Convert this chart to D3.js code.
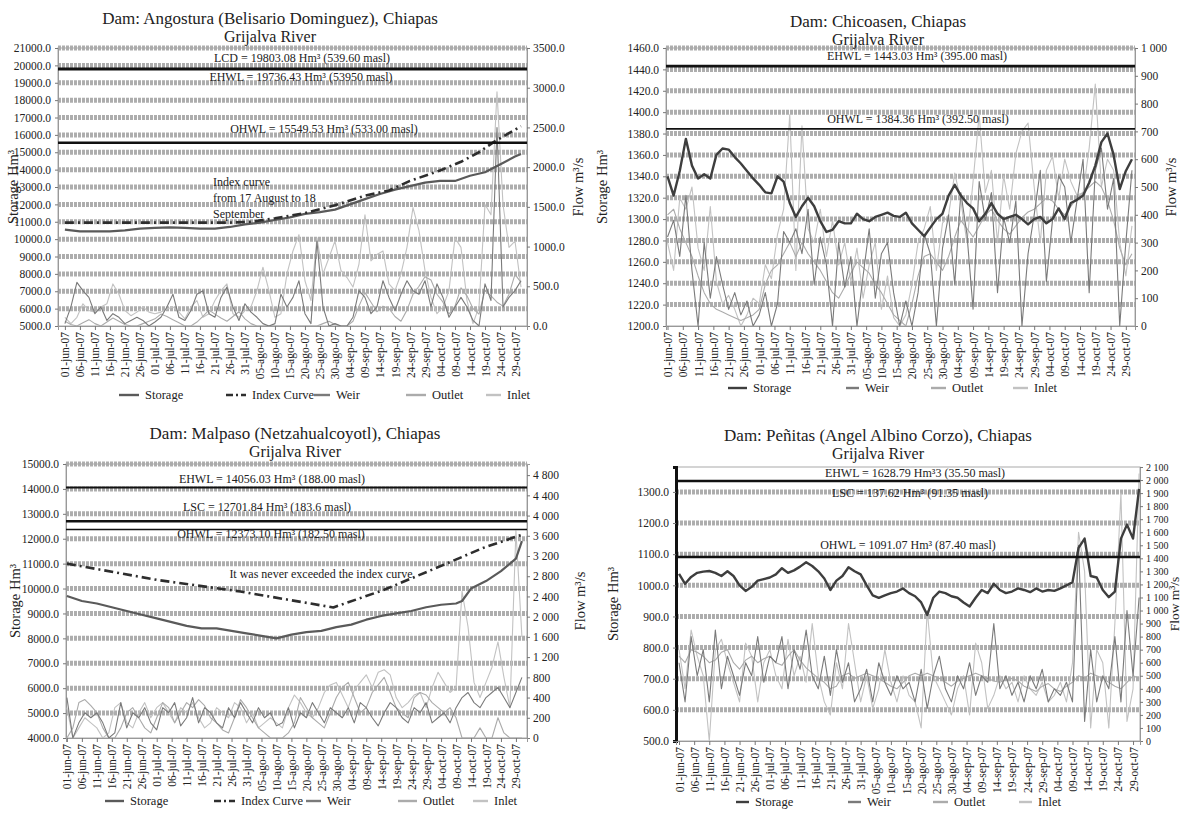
<!DOCTYPE html>
<html>
<head>
<meta charset="utf-8">
<script src="https://cdn.jsdelivr.net/npm/d3@7"></script>
<style>
body { margin: 0; background: #fff; }
svg text { font-family: "Liberation Serif", "DejaVu Serif", serif !important; fill: #222; }
</style>
</head>
<body>
<svg id="chart" width="1184" height="813"></svg>
<script>
// x categories: one label every 5 days, 01-jun-07 = day 0
const tickDates = ["01-jun-07","06-jun-07","11-jun-07","16-jun-07","21-jun-07","26-jun-07",
  "01-jul-07","06-jul-07","11-jul-07","16-jul-07","21-jul-07","26-jul-07","31-jul-07",
  "05-ago-07","10-ago-07","15-ago-07","20-ago-07","25-ago-07","30-ago-07",
  "04-sep-07","09-sep-07","14-sep-07","19-sep-07","24-sep-07","29-sep-07",
  "04-oct-07","09-oct-07","14-oct-07","19-oct-07","24-oct-07","29-oct-07"];
// flows are read every second day
const flowDays = d3.range(0, 153, 2);

// ---- Angostura
const angStorageDays = [0,5,10,15,20,25,30,35,40,45,50,55,60,65,70,75,80,85,90,95,100,105,110,115,120,125,130,135,140,145,150,152];
const angStorage = [10550,10450,10450,10450,10500,10600,10650,10680,10650,10600,10600,10700,10850,10950,11100,11250,
  11450,11550,11700,12000,12300,12600,12850,13050,13250,13350,13350,13650,13850,14300,14750,14900];
const angIndexDays = [0,55,62,70,80,90,100,108,115,125,132,138,143,147,152];
const angIndex = [10950,10950,11000,11200,11500,11950,12500,12800,13350,13950,14450,15000,15600,16000,16500];
const angWeir = [30,240,550,445,360,155,240,70,155,110, 30,70,110,70,0,50,110,240,400,110,
  70,195,400,445,155,110,360,490,240,70, 280,175,110,30,0,30,400,240,360,570,
  155,30,1070,240,0,30,0,0,110,445, 360,155,240,570,360,195,400,570,445,400,
  570,240,530,360,110,240,360,240,70,0, 530,320,2500,240,360,445,570];
const angOutlet = [60,20,0,40,80,30,0,50,100,60, 20,0,0,30,60,90,150,120,80,40,
  0,0,50,120,200,150,100,60,120,180, 90,30,0,0,0,0,0,0,0,0,
  0,0,0,30,60,20,0,0,60,250, 420,300,180,250,220,120,60,200,400,500,
  620,580,400,300,150,250,480,380,220,150, 450,380,300,250,400,650,550];
const angInlet = [110,30,110,280,195,175,240,280,530,400, 195,130,175,240,175,155,175,215,240,175,
  90,240,320,110,155,320,445,530,155,110, 195,240,445,740,445,110,155,655,945,1150,
  570,320,1110,655,860,1070,700,610,490,780, 1400,820,900,945,530,445,655,990,1490,1200,
  700,360,155,240,445,1110,990,320,30,240, 1530,1400,2950,1530,990,1070,490];

// ---- Chicoasen
const chiStorage = [1340,1322,1345,1375,1350,1338,1342,1338,1360,1366, 1365,1358,1352,1345,1338,1332,1325,1324,1340,1335,
  1315,1302,1312,1320,1312,1298,1288,1290,1298,1296, 1296,1305,1300,1298,1302,1304,1306,1303,1302,1306,
  1296,1290,1284,1292,1300,1305,1322,1332,1322,1315, 1310,1298,1305,1315,1305,1300,1302,1304,1300,1295,
  1300,1302,1296,1300,1310,1300,1315,1318,1322,1334, 1350,1372,1380,1360,1328,1345,1356];
const chiWeir = [320,380,250,470,200,0,300,100,250,150, 60,120,40,90,0,40,120,0,80,340,
  300,350,260,420,150,320,220,0,300,140, 250,0,180,350,100,260,300,120,0,90,
  0,120,330,260,0,280,400,150,480,330, 60,520,380,480,120,390,300,450,0,260,
  400,560,160,380,540,500,300,450,600,120, 560,640,420,530,0,300,560];
const chiOutlet = [400,420,350,300,250,180,120,80,60,50, 40,30,20,30,40,60,150,200,220,260,
  300,250,300,260,230,200,160,120,100,140, 190,230,210,190,150,120,80,40,20,0,
  80,180,250,260,230,200,250,320,380,350, 320,360,400,420,380,350,330,360,390,410,
  420,440,460,450,420,400,430,460,480,500, 520,500,450,380,280,220,260];
const chiInlet = [300,200,460,420,500,280,200,430,160,80, 110,60,0,40,100,80,220,170,330,420,
  760,200,720,350,300,420,250,380,220,300, 160,280,100,220,300,60,180,30,0,40,
  150,300,350,430,200,370,400,550,450,300, 520,760,480,560,300,540,420,620,700,730,
  500,300,560,610,460,600,520,470,480,640, 870,500,600,560,300,180,360];

// ---- Malpaso
const malStorageDays = [0,5,10,15,20,25,30,35,40,45,50,55,60,65,70,75,80,85,90,95,100,105,110,115,120,125,130,132,135,140,145,150,152];
const malStorage = [9700,9500,9400,9250,9100,8950,8800,8650,8500,8400,8400,8300,8200,8100,8000,8150,8250,8300,8450,8550,
  8750,8900,9000,9100,9250,9350,9400,9500,10000,10300,10700,11200,11900];
const malIndexDays = [0,30,58,74,89,106,126,139,152];
const malIndex = [11000,10350,9880,9550,9240,9950,10960,11630,12160];
const malWeir = [400,0,150,250,200,250,150,0,50,350, 100,250,200,300,150,80,300,250,350,120,
  200,400,150,300,250,150,100,300,200,350, 250,150,300,200,250,120,150,300,100,250,
  200,350,250,150,300,250,200,300,150,350, 300,200,120,250,350,300,200,150,300,250,
  350,150,200,250,150,300,400,500,350,300, 400,500,600,400,300,500,800];
const malOutlet = [0,100,350,380,320,250,100,0,0,100, 250,300,200,100,50,200,350,300,150,250,
  350,300,380,320,200,150,80,50,200,380, 300,200,100,50,0,0,0,50,150,400,
  300,200,150,100,250,400,600,700,400,250, 300,500,650,800,500,300,250,200,400,500,
  450,350,300,250,300,200,0,0,0,100, 0,0,200,50,0,0,0];
const malInlet = [300,0,100,200,150,100,0,50,300,350, 150,100,250,350,200,300,350,250,150,300,
  250,350,200,100,150,300,250,200,350,300, 150,250,100,150,200,150,100,300,450,350,
  250,200,300,500,650,700,450,300,550,700, 850,600,900,950,850,400,300,350,450,500,
  300,600,900,700,500,600,2500,1800,700,400, 700,1000,1500,800,300,3700,1600];

// ---- Peñitas
const penStorage = [1037,1005,1027,1040,1044,1046,1040,1030,1045,1030, 1000,982,995,1015,1020,1025,1035,1055,1040,1048,
  1060,1074,1062,1045,1022,985,1015,1030,1058,1045, 1035,1000,968,960,968,975,980,990,975,965,
  945,905,960,980,975,965,960,945,932,960, 985,975,1005,985,975,980,990,985,978,990,
  980,985,982,990,1000,1010,1120,1150,1030,1025, 985,962,980,1150,1195,1150,1310];
const penWeir = [600,300,800,500,700,300,850,400,650,500, 350,600,500,800,450,650,600,800,400,700,
  550,850,500,400,650,350,700,450,600,300, 400,550,300,600,450,350,500,400,450,300,
  550,250,500,650,400,300,500,400,600,350, 500,450,900,400,500,350,450,300,500,400,
  550,300,400,350,450,300,1500,150,700,300, 500,400,800,300,1000,500,1100];
const penOutlet = [650,600,700,680,650,600,620,680,700,600, 550,620,650,600,630,650,600,580,650,700,
  620,560,520,480,450,400,420,500,520,480, 500,520,500,480,450,420,400,450,500,520,
  500,520,500,480,450,420,460,480,500,520, 500,480,460,450,470,480,460,420,400,380,
  420,440,400,380,420,450,500,480,520,500, 480,450,420,400,450,500,480];
const penInlet = [700,400,850,650,500,0,700,780,600,450, 300,750,650,300,600,700,500,400,780,500,
  650,450,900,500,300,200,600,400,900,600, 300,500,250,400,700,450,300,500,350,300,
  100,1000,500,400,300,200,400,500,200,750, 600,250,350,500,400,450,300,500,400,350,
  450,300,350,450,300,600,1600,1300,100,700, 600,100,900,1900,150,400,2050];

const malFlowTicks = [0,200,400,800,1200,1600,2000,2400,2800,3200,3600,4000,4400,4800];

const svg = d3.select("#chart");
const serif = "Liberation Serif, DejaVu Serif, serif";
const fmt1 = d3.format(".1f");
const spaced = v => v >= 1000 ? d3.format(",")(v).replace(",", " ") : String(v);
const zip = (days, vals) => days.map((d, i) => [d, vals[i]]);

const styles = {
  storage: { stroke: "#5a5a5a", width: 2.2, dash: null },
  storageDark: { stroke: "#3e3e3e", width: 2.4, dash: null },
  index: { stroke: "#2e2e2e", width: 2.6, dash: "9,4,2,4" },
  weir: { stroke: "#7a7a7a", width: 1.1, dash: null },
  outlet: { stroke: "#ababab", width: 1.1, dash: null },
  inlet: { stroke: "#c2c2c2", width: 1.1, dash: null }
};

function drawPanel(p) {
  const g = svg.append("g");
  const x = d3.scaleLinear().domain(p.xDomain).range([p.left, p.right]);
  const y = d3.scaleLinear().domain(p.yDomain).range([p.bottom, p.top]);
  const y2 = p.y2;

  svg.append("clipPath").attr("id", "clip" + p.key).append("rect")
    .attr("x", p.left).attr("y", p.top).attr("width", p.right - p.left).attr("height", p.bottom - p.top);

  // gray banded grid lines
  g.append("g").selectAll("line").data(p.yTicks.filter(v => v > p.yDomain[0])).join("line")
    .attr("x1", p.left).attr("x2", p.right)
    .attr("y1", d => y(d)).attr("y2", d => y(d))
    .attr("stroke", "#adadad").attr("stroke-width", 5).attr("stroke-dasharray", "3,1");

  g.append("rect").attr("x", p.left).attr("y", p.top)
    .attr("width", p.right - p.left).attr("height", p.bottom - p.top)
    .attr("fill", "none").attr("stroke", "#aaa");

  // axes
  const la = g.append("g").attr("transform", `translate(${p.left},0)`)
    .call(d3.axisLeft(y).tickValues(p.yTicks).tickFormat(fmt1).tickSize(3).tickPadding(4));
  const ra = g.append("g").attr("transform", `translate(${p.right},0)`)
    .call(d3.axisRight(y2).tickValues(p.y2Ticks).tickFormat(p.y2Fmt).tickSize(3).tickPadding(3));
  const xa = g.append("g").attr("transform", `translate(0,${p.bottom})`)
    .call(d3.axisBottom(x).tickValues(tickDates.map((d, i) => i * 5)).tickFormat((d, i) => tickDates[i]).tickSize(4));
  xa.selectAll("text").attr("transform", "rotate(-90)").attr("x", -6).attr("y", 0)
    .attr("dy", "0.35em").style("text-anchor", "end");
  [la, ra, xa].forEach(a => {
    a.attr("font-family", serif);
    a.selectAll("text").attr("font-size", 11.5).attr("fill", "#222");
    a.selectAll("line").attr("stroke", "#777");
    a.select(".domain").attr("stroke", "#999");
  });
  if (p.rightFont) ra.selectAll("text").attr("font-size", p.rightFont);
  if (p.thickLeft) la.select(".domain").attr("stroke", "#111").attr("stroke-width", 3);

  // titles
  g.append("text").attr("x", p.titleX).attr("y", p.titleY).attr("text-anchor", "middle")
    .attr("font-size", 17).text(p.title);
  g.append("text").attr("x", p.titleX).attr("y", p.titleY + 18).attr("text-anchor", "middle")
    .attr("font-size", 16).text("Grijalva River");
  g.append("text").attr("transform", `translate(${p.ylabX},${(p.top + p.bottom) / 2}) rotate(-90)`)
    .attr("text-anchor", "middle").attr("font-size", 14.5).text("Storage Hm³");
  g.append("text").attr("transform", `translate(${p.y2labX},${(p.top + p.bottom) / 2}) rotate(-90)`)
    .attr("text-anchor", "middle").attr("font-size", p.y2labSize || 14.5).text("Flow m³/s");

  // series
  const plot = g.append("g").attr("clip-path", `url(#clip${p.key})`);
  p.series.forEach(s => {
    const sc = s.axis === "left" ? y : y2;
    const st = styles[s.style];
    plot.append("path").datum(s.data)
      .attr("fill", "none").attr("stroke", st.stroke).attr("stroke-width", st.width)
      .attr("stroke-dasharray", st.dash).attr("stroke-linejoin", "round")
      .attr("d", d3.line().x(d => x(d[0])).y(d => sc(d[1])));
  });

  // reference levels
  p.levels.forEach(l => {
    g.append("line").attr("x1", p.left).attr("x2", p.right)
      .attr("y1", y(l.value)).attr("y2", y(l.value))
      .attr("stroke", "#111").attr("stroke-width", l.width);
  });
  p.notes.forEach(n => {
    g.append("text").attr("x", n.x).attr("y", y(n.at) + n.dy)
      .attr("text-anchor", n.anchor || "middle").attr("font-size", 12).text(n.text);
  });

  // legend
  p.legend.forEach(it => {
    const st = styles[it.style];
    g.append("line").attr("x1", it.x).attr("x2", it.x + it.w).attr("y1", p.legendY).attr("y2", p.legendY)
      .attr("stroke", st.stroke).attr("stroke-width", it.style === "index" ? 2.6 : 2.4)
      .attr("stroke-dasharray", it.style === "index" ? "7,3,2,3" : null);
    g.append("text").attr("x", it.x + it.w + 6).attr("y", p.legendY + 4)
      .attr("font-size", 12.5).text(it.label);
  });
}

// Angostura
drawPanel({
  key: 1, left: 58, right: 527, top: 48, bottom: 326, xDomain: [-2.3, 154],
  yDomain: [5000, 21000], yTicks: d3.range(5000, 21001, 1000),
  y2: d3.scaleLinear().domain([0, 3500]).range([326, 48]), y2Ticks: d3.range(0, 3501, 500), y2Fmt: fmt1,
  title: "Dam: Angostura (Belisario Dominguez), Chiapas", titleX: 270, titleY: 24,
  ylabX: 18, y2labX: 583,
  series: [
    { data: zip(flowDays, angInlet), axis: "right", style: "inlet" },
    { data: zip(flowDays, angOutlet), axis: "right", style: "outlet" },
    { data: zip(flowDays, angWeir), axis: "right", style: "weir" },
    { data: zip(angStorageDays, angStorage), axis: "left", style: "storage" },
    { data: zip(angIndexDays, angIndex), axis: "left", style: "index" }
  ],
  levels: [{ value: 19803.08, width: 2.4 }, { value: 19736.43, width: 1.2 }, { value: 15549.53, width: 2.4 }],
  notes: [
    { x: 302, at: 19803.08, dy: -7, text: "LCD = 19803.08 Hm³ (539.60 masl)" },
    { x: 301, at: 19736.43, dy: 11, text: "EHWL = 19736.43 Hm³ (53950 masl)" },
    { x: 324, at: 15549.53, dy: -10, text: "OHWL = 15549.53 Hm³ (533.00 masl)" },
    { x: 213, at: 13000, dy: -1, anchor: "start", text: "Index curve" },
    { x: 213, at: 13000, dy: 15, anchor: "start", text: "from 17 August to 18" },
    { x: 213, at: 13000, dy: 31, anchor: "start", text: "September" }
  ],
  legendY: 395,
  legend: [
    { x: 119, w: 20, style: "storage", label: "Storage" },
    { x: 226, w: 20, style: "index", label: "Index Curve" },
    { x: 314, w: 16, style: "weir", label: "Weir" },
    { x: 406, w: 20, style: "outlet", label: "Outlet" },
    { x: 486, w: 15, style: "inlet", label: "Inlet" }
  ]
});

// Chicoasen
drawPanel({
  key: 2, left: 666, right: 1135, top: 48, bottom: 326, xDomain: [-0.5, 153],
  yDomain: [1200, 1460], yTicks: d3.range(1200, 1461, 20),
  y2: d3.scaleLinear().domain([0, 1000]).range([326, 48]), y2Ticks: d3.range(0, 1001, 100), y2Fmt: spaced,
  title: "Dam: Chicoasen, Chiapas", titleX: 878, titleY: 27,
  ylabX: 607, y2labX: 1176,
  series: [
    { data: zip(flowDays, chiInlet), axis: "right", style: "inlet" },
    { data: zip(flowDays, chiOutlet), axis: "right", style: "outlet" },
    { data: zip(flowDays, chiWeir), axis: "right", style: "weir" },
    { data: zip(flowDays, chiStorage), axis: "left", style: "storageDark" }
  ],
  levels: [{ value: 1443.03, width: 2.6 }, { value: 1384.36, width: 1.6 }],
  notes: [
    { x: 917, at: 1443.03, dy: -6, text: "EHWL = 1443.03 Hm³ (395.00 masl)" },
    { x: 918, at: 1384.36, dy: -6, text: "OHWL = 1384.36 Hm³ (392.50 masl)" }
  ],
  legendY: 388,
  legend: [
    { x: 728, w: 19, style: "storageDark", label: "Storage" },
    { x: 846, w: 13, style: "weir", label: "Weir" },
    { x: 931, w: 15, style: "outlet", label: "Outlet" },
    { x: 1013, w: 15, style: "inlet", label: "Inlet" }
  ]
});

// Malpaso: the printed flow labels are 0, 200, 400, then every 400, all evenly spaced
const malTop = 464, malBottom = 738, malStep = (malBottom - malTop) / 13.55;
drawPanel({
  key: 3, left: 66, right: 527, top: malTop, bottom: malBottom, xDomain: [-0.3, 153.7],
  yDomain: [4000, 15000], yTicks: d3.range(4000, 15001, 1000),
  y2: d3.scaleLinear().domain([0, 200, 400, 5020]).range([malBottom, malBottom - malStep, malBottom - 2 * malStep, malTop]),
  y2Ticks: malFlowTicks, y2Fmt: spaced,
  title: "Dam: Malpaso (Netzahualcoyotl), Chiapas", titleX: 295, titleY: 439,
  ylabX: 20, y2labX: 585,
  series: [
    { data: zip(flowDays, malInlet), axis: "right", style: "inlet" },
    { data: zip(flowDays, malOutlet), axis: "right", style: "outlet" },
    { data: zip(flowDays, malWeir), axis: "right", style: "weir" },
    { data: zip(malStorageDays, malStorage), axis: "left", style: "storage" },
    { data: zip(malIndexDays, malIndex), axis: "left", style: "index" }
  ],
  levels: [{ value: 14056.03, width: 2 }, { value: 12701.84, width: 2.6 }, { value: 12373.10, width: 1.4 }],
  notes: [
    { x: 272, at: 14056.03, dy: -5, text: "EHWL = 14056.03 Hm³ (188.00 masl)" },
    { x: 267, at: 12701.84, dy: -10, text: "LSC = 12701.84 Hm³ (183.6 masl)" },
    { x: 271, at: 12373.10, dy: 9, text: "OHWL = 12373.10 Hm³ (182.50 masl)" },
    { x: 321, at: 10600, dy: 4, text: "It was never exceeded the index curve" }
  ],
  legendY: 801,
  legend: [
    { x: 105, w: 19, style: "storage", label: "Storage" },
    { x: 214, w: 21, style: "index", label: "Index Curve" },
    { x: 306, w: 15, style: "weir", label: "Weir" },
    { x: 398, w: 19, style: "outlet", label: "Outlet" },
    { x: 473, w: 15, style: "inlet", label: "Inlet" }
  ]
});

// Peñitas
drawPanel({
  key: 4, left: 676, right: 1140, top: 467, bottom: 741, xDomain: [-1, 152.3],
  yDomain: [500, 1380], yTicks: d3.range(500, 1301, 100), thickLeft: true, rightFont: 10,
  y2: d3.scaleLinear().domain([0, 2100]).range([741, 467]), y2Ticks: d3.range(0, 2101, 100), y2Fmt: spaced,
  title: "Dam: Peñitas (Angel Albino Corzo), Chiapas", titleX: 878, titleY: 441,
  ylabX: 618, y2labX: 1179, y2labSize: 13.5,
  series: [
    { data: zip(flowDays, penInlet), axis: "right", style: "inlet" },
    { data: zip(flowDays, penOutlet), axis: "right", style: "outlet" },
    { data: zip(flowDays, penWeir), axis: "right", style: "weir" },
    { data: zip(flowDays, penStorage), axis: "left", style: "storageDark" }
  ],
  levels: [{ value: 1335, width: 2.6 }, { value: 1091.07, width: 2.4 }],
  notes: [
    { x: 915, at: 1335, dy: -4, text: "EHWL = 1628.79 Hm³3 (35.50 masl)" },
    { x: 910, at: 1335, dy: 16, text: "LSC = 137.62 Hm³ (91.35 masl)" },
    { x: 908, at: 1091.07, dy: -8, text: "OHWL = 1091.07 Hm³ (87.40 masl)" }
  ],
  legendY: 802,
  legend: [
    { x: 736, w: 13, style: "storageDark", label: "Storage" },
    { x: 848, w: 13, style: "weir", label: "Weir" },
    { x: 933, w: 15, style: "outlet", label: "Outlet" },
    { x: 1019, w: 13, style: "inlet", label: "Inlet" }
  ]
});
</script>
</body>
</html>
